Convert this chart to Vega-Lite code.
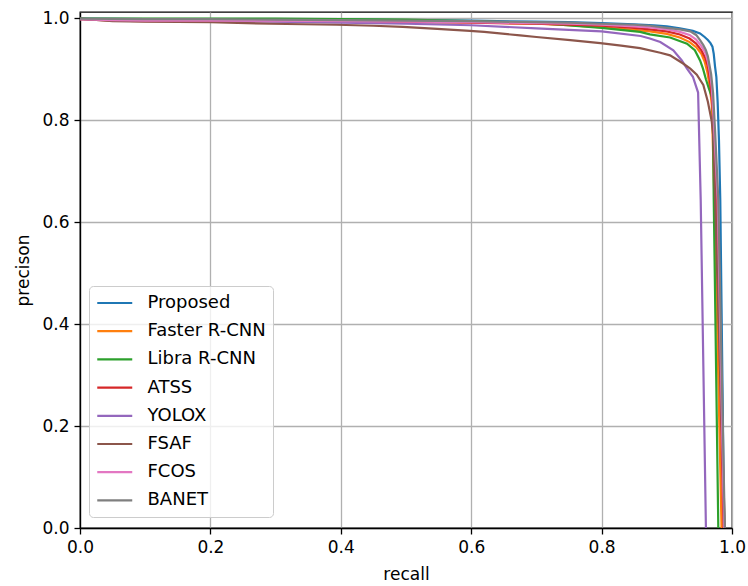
{
  "$schema": "https://vega.github.io/schema/vega-lite/v6.json",
  "width": 652,
  "height": 516,
  "autosize": {"type": "none"},
  "padding": {"left": 80, "top": 12, "right": 16, "bottom": 58},
  "background": "white",
  "config": {
    "font": "DejaVu Sans",
    "view": {"stroke": "black", "strokeWidth": 1.3},
    "axis": {
      "labelFont": "DejaVu Sans",
      "labelFontSize": 17,
      "labelColor": "black",
      "labelPadding": 5,
      "labelFlush": false,
      "tickColor": "black",
      "tickSize": 6,
      "tickWidth": 1.3,
      "domainColor": "black",
      "domainWidth": 1.3,
      "gridColor": "#b0b0b0",
      "gridWidth": 1.3,
      "titleFont": "DejaVu Sans",
      "titleFontSize": 17,
      "titleFontWeight": "normal",
      "titleColor": "black"
    }
  },
  "data": {
    "values": [
      {"method": "Proposed", "recall": 0.0, "precision": 0.999},
      {"method": "Proposed", "recall": 0.1, "precision": 0.998},
      {"method": "Proposed", "recall": 0.2, "precision": 0.998},
      {"method": "Proposed", "recall": 0.3, "precision": 0.997},
      {"method": "Proposed", "recall": 0.4, "precision": 0.997},
      {"method": "Proposed", "recall": 0.5, "precision": 0.996},
      {"method": "Proposed", "recall": 0.6, "precision": 0.995},
      {"method": "Proposed", "recall": 0.7, "precision": 0.993},
      {"method": "Proposed", "recall": 0.75, "precision": 0.992},
      {"method": "Proposed", "recall": 0.8, "precision": 0.99},
      {"method": "Proposed", "recall": 0.85, "precision": 0.988},
      {"method": "Proposed", "recall": 0.88, "precision": 0.986},
      {"method": "Proposed", "recall": 0.9, "precision": 0.984},
      {"method": "Proposed", "recall": 0.92, "precision": 0.98},
      {"method": "Proposed", "recall": 0.94, "precision": 0.975},
      {"method": "Proposed", "recall": 0.951, "precision": 0.97},
      {"method": "Proposed", "recall": 0.958, "precision": 0.963},
      {"method": "Proposed", "recall": 0.963, "precision": 0.957},
      {"method": "Proposed", "recall": 0.967, "precision": 0.951},
      {"method": "Proposed", "recall": 0.97, "precision": 0.944},
      {"method": "Proposed", "recall": 0.972, "precision": 0.93},
      {"method": "Proposed", "recall": 0.974, "precision": 0.905},
      {"method": "Proposed", "recall": 0.976, "precision": 0.885},
      {"method": "Proposed", "recall": 0.978, "precision": 0.835},
      {"method": "Proposed", "recall": 0.98, "precision": 0.761},
      {"method": "Proposed", "recall": 0.982, "precision": 0.644},
      {"method": "Proposed", "recall": 0.988, "precision": 0.0},

      {"method": "Faster R-CNN", "recall": 0.0, "precision": 0.998},
      {"method": "Faster R-CNN", "recall": 0.1, "precision": 0.997},
      {"method": "Faster R-CNN", "recall": 0.2, "precision": 0.996},
      {"method": "Faster R-CNN", "recall": 0.3, "precision": 0.996},
      {"method": "Faster R-CNN", "recall": 0.4, "precision": 0.995},
      {"method": "Faster R-CNN", "recall": 0.5, "precision": 0.994},
      {"method": "Faster R-CNN", "recall": 0.6, "precision": 0.992},
      {"method": "Faster R-CNN", "recall": 0.7, "precision": 0.989},
      {"method": "Faster R-CNN", "recall": 0.75, "precision": 0.986},
      {"method": "Faster R-CNN", "recall": 0.8, "precision": 0.982},
      {"method": "Faster R-CNN", "recall": 0.85, "precision": 0.977},
      {"method": "Faster R-CNN", "recall": 0.874, "precision": 0.974},
      {"method": "Faster R-CNN", "recall": 0.9, "precision": 0.969},
      {"method": "Faster R-CNN", "recall": 0.92, "precision": 0.962},
      {"method": "Faster R-CNN", "recall": 0.935, "precision": 0.953},
      {"method": "Faster R-CNN", "recall": 0.945, "precision": 0.943},
      {"method": "Faster R-CNN", "recall": 0.953, "precision": 0.93},
      {"method": "Faster R-CNN", "recall": 0.958, "precision": 0.915},
      {"method": "Faster R-CNN", "recall": 0.962, "precision": 0.895},
      {"method": "Faster R-CNN", "recall": 0.966, "precision": 0.865},
      {"method": "Faster R-CNN", "recall": 0.969, "precision": 0.83},
      {"method": "Faster R-CNN", "recall": 0.973, "precision": 0.644},
      {"method": "Faster R-CNN", "recall": 0.984, "precision": 0.0},

      {"method": "Libra R-CNN", "recall": 0.0, "precision": 0.999},
      {"method": "Libra R-CNN", "recall": 0.1, "precision": 0.999},
      {"method": "Libra R-CNN", "recall": 0.2, "precision": 0.999},
      {"method": "Libra R-CNN", "recall": 0.3, "precision": 0.999},
      {"method": "Libra R-CNN", "recall": 0.4, "precision": 0.998},
      {"method": "Libra R-CNN", "recall": 0.5, "precision": 0.997},
      {"method": "Libra R-CNN", "recall": 0.6, "precision": 0.994},
      {"method": "Libra R-CNN", "recall": 0.7, "precision": 0.99},
      {"method": "Libra R-CNN", "recall": 0.736, "precision": 0.987},
      {"method": "Libra R-CNN", "recall": 0.8, "precision": 0.981},
      {"method": "Libra R-CNN", "recall": 0.859, "precision": 0.973},
      {"method": "Libra R-CNN", "recall": 0.874, "precision": 0.968},
      {"method": "Libra R-CNN", "recall": 0.905, "precision": 0.962},
      {"method": "Libra R-CNN", "recall": 0.931, "precision": 0.95},
      {"method": "Libra R-CNN", "recall": 0.943, "precision": 0.937},
      {"method": "Libra R-CNN", "recall": 0.951, "precision": 0.917},
      {"method": "Libra R-CNN", "recall": 0.9555, "precision": 0.901},
      {"method": "Libra R-CNN", "recall": 0.96, "precision": 0.88},
      {"method": "Libra R-CNN", "recall": 0.965, "precision": 0.86},
      {"method": "Libra R-CNN", "recall": 0.9705, "precision": 0.84},
      {"method": "Libra R-CNN", "recall": 0.972, "precision": 0.644},
      {"method": "Libra R-CNN", "recall": 0.979, "precision": 0.0},

      {"method": "ATSS", "recall": 0.0, "precision": 0.998},
      {"method": "ATSS", "recall": 0.05, "precision": 0.995},
      {"method": "ATSS", "recall": 0.1, "precision": 0.994},
      {"method": "ATSS", "recall": 0.2, "precision": 0.994},
      {"method": "ATSS", "recall": 0.3, "precision": 0.994},
      {"method": "ATSS", "recall": 0.4, "precision": 0.993},
      {"method": "ATSS", "recall": 0.5, "precision": 0.992},
      {"method": "ATSS", "recall": 0.6, "precision": 0.991},
      {"method": "ATSS", "recall": 0.7, "precision": 0.989},
      {"method": "ATSS", "recall": 0.75, "precision": 0.987},
      {"method": "ATSS", "recall": 0.8, "precision": 0.985},
      {"method": "ATSS", "recall": 0.85, "precision": 0.981},
      {"method": "ATSS", "recall": 0.874, "precision": 0.978},
      {"method": "ATSS", "recall": 0.9, "precision": 0.974},
      {"method": "ATSS", "recall": 0.92, "precision": 0.968},
      {"method": "ATSS", "recall": 0.935, "precision": 0.96},
      {"method": "ATSS", "recall": 0.945, "precision": 0.95},
      {"method": "ATSS", "recall": 0.953, "precision": 0.937},
      {"method": "ATSS", "recall": 0.959, "precision": 0.922},
      {"method": "ATSS", "recall": 0.963, "precision": 0.905},
      {"method": "ATSS", "recall": 0.966, "precision": 0.88},
      {"method": "ATSS", "recall": 0.969, "precision": 0.845},
      {"method": "ATSS", "recall": 0.972, "precision": 0.8},
      {"method": "ATSS", "recall": 0.976, "precision": 0.644},
      {"method": "ATSS", "recall": 0.987, "precision": 0.0},

      {"method": "YOLOX", "recall": 0.0, "precision": 0.998},
      {"method": "YOLOX", "recall": 0.1, "precision": 0.996},
      {"method": "YOLOX", "recall": 0.2, "precision": 0.994},
      {"method": "YOLOX", "recall": 0.3, "precision": 0.993},
      {"method": "YOLOX", "recall": 0.4, "precision": 0.991},
      {"method": "YOLOX", "recall": 0.5, "precision": 0.989},
      {"method": "YOLOX", "recall": 0.6, "precision": 0.986},
      {"method": "YOLOX", "recall": 0.7, "precision": 0.98},
      {"method": "YOLOX", "recall": 0.75, "precision": 0.977},
      {"method": "YOLOX", "recall": 0.8, "precision": 0.974},
      {"method": "YOLOX", "recall": 0.86, "precision": 0.965},
      {"method": "YOLOX", "recall": 0.874, "precision": 0.96},
      {"method": "YOLOX", "recall": 0.89, "precision": 0.953},
      {"method": "YOLOX", "recall": 0.91, "precision": 0.937},
      {"method": "YOLOX", "recall": 0.923, "precision": 0.917},
      {"method": "YOLOX", "recall": 0.931, "precision": 0.901},
      {"method": "YOLOX", "recall": 0.94, "precision": 0.885},
      {"method": "YOLOX", "recall": 0.948, "precision": 0.854},
      {"method": "YOLOX", "recall": 0.952, "precision": 0.644},
      {"method": "YOLOX", "recall": 0.96, "precision": 0.0},

      {"method": "FSAF", "recall": 0.0, "precision": 0.999},
      {"method": "FSAF", "recall": 0.02, "precision": 0.997},
      {"method": "FSAF", "recall": 0.05, "precision": 0.994},
      {"method": "FSAF", "recall": 0.1, "precision": 0.993},
      {"method": "FSAF", "recall": 0.2, "precision": 0.992},
      {"method": "FSAF", "recall": 0.291, "precision": 0.989},
      {"method": "FSAF", "recall": 0.394, "precision": 0.987},
      {"method": "FSAF", "recall": 0.45, "precision": 0.985},
      {"method": "FSAF", "recall": 0.495, "precision": 0.983},
      {"method": "FSAF", "recall": 0.548, "precision": 0.979},
      {"method": "FSAF", "recall": 0.598, "precision": 0.975},
      {"method": "FSAF", "recall": 0.62, "precision": 0.973},
      {"method": "FSAF", "recall": 0.675, "precision": 0.966},
      {"method": "FSAF", "recall": 0.7, "precision": 0.963},
      {"method": "FSAF", "recall": 0.752, "precision": 0.957},
      {"method": "FSAF", "recall": 0.798, "precision": 0.951},
      {"method": "FSAF", "recall": 0.83, "precision": 0.946},
      {"method": "FSAF", "recall": 0.859, "precision": 0.941},
      {"method": "FSAF", "recall": 0.89, "precision": 0.932},
      {"method": "FSAF", "recall": 0.905, "precision": 0.927},
      {"method": "FSAF", "recall": 0.925, "precision": 0.911},
      {"method": "FSAF", "recall": 0.936, "precision": 0.901},
      {"method": "FSAF", "recall": 0.946, "precision": 0.889},
      {"method": "FSAF", "recall": 0.956, "precision": 0.869},
      {"method": "FSAF", "recall": 0.963, "precision": 0.836},
      {"method": "FSAF", "recall": 0.969, "precision": 0.797},
      {"method": "FSAF", "recall": 0.971, "precision": 0.772},
      {"method": "FSAF", "recall": 0.989, "precision": 0.0},

      {"method": "FCOS", "recall": 0.0, "precision": 0.998},
      {"method": "FCOS", "recall": 0.05, "precision": 0.996},
      {"method": "FCOS", "recall": 0.1, "precision": 0.995},
      {"method": "FCOS", "recall": 0.2, "precision": 0.995},
      {"method": "FCOS", "recall": 0.3, "precision": 0.995},
      {"method": "FCOS", "recall": 0.4, "precision": 0.994},
      {"method": "FCOS", "recall": 0.5, "precision": 0.993},
      {"method": "FCOS", "recall": 0.6, "precision": 0.992},
      {"method": "FCOS", "recall": 0.7, "precision": 0.99},
      {"method": "FCOS", "recall": 0.75, "precision": 0.989},
      {"method": "FCOS", "recall": 0.8, "precision": 0.987},
      {"method": "FCOS", "recall": 0.85, "precision": 0.984},
      {"method": "FCOS", "recall": 0.874, "precision": 0.982},
      {"method": "FCOS", "recall": 0.9, "precision": 0.978},
      {"method": "FCOS", "recall": 0.92, "precision": 0.973},
      {"method": "FCOS", "recall": 0.935, "precision": 0.967},
      {"method": "FCOS", "recall": 0.945, "precision": 0.958},
      {"method": "FCOS", "recall": 0.953, "precision": 0.945},
      {"method": "FCOS", "recall": 0.959, "precision": 0.932},
      {"method": "FCOS", "recall": 0.963, "precision": 0.915},
      {"method": "FCOS", "recall": 0.966, "precision": 0.895},
      {"method": "FCOS", "recall": 0.969, "precision": 0.865},
      {"method": "FCOS", "recall": 0.972, "precision": 0.8},
      {"method": "FCOS", "recall": 0.978, "precision": 0.644},
      {"method": "FCOS", "recall": 0.988, "precision": 0.0},

      {"method": "BANET", "recall": 0.0, "precision": 0.999},
      {"method": "BANET", "recall": 0.1, "precision": 0.998},
      {"method": "BANET", "recall": 0.2, "precision": 0.998},
      {"method": "BANET", "recall": 0.3, "precision": 0.997},
      {"method": "BANET", "recall": 0.4, "precision": 0.996},
      {"method": "BANET", "recall": 0.5, "precision": 0.995},
      {"method": "BANET", "recall": 0.6, "precision": 0.994},
      {"method": "BANET", "recall": 0.7, "precision": 0.992},
      {"method": "BANET", "recall": 0.75, "precision": 0.991},
      {"method": "BANET", "recall": 0.8, "precision": 0.989},
      {"method": "BANET", "recall": 0.85, "precision": 0.987},
      {"method": "BANET", "recall": 0.874, "precision": 0.985},
      {"method": "BANET", "recall": 0.9, "precision": 0.981},
      {"method": "BANET", "recall": 0.92, "precision": 0.978},
      {"method": "BANET", "recall": 0.936, "precision": 0.974},
      {"method": "BANET", "recall": 0.945, "precision": 0.967},
      {"method": "BANET", "recall": 0.951, "precision": 0.957},
      {"method": "BANET", "recall": 0.956, "precision": 0.947},
      {"method": "BANET", "recall": 0.96, "precision": 0.937},
      {"method": "BANET", "recall": 0.963, "precision": 0.925},
      {"method": "BANET", "recall": 0.965, "precision": 0.911},
      {"method": "BANET", "recall": 0.968, "precision": 0.89},
      {"method": "BANET", "recall": 0.971, "precision": 0.853},
      {"method": "BANET", "recall": 0.974, "precision": 0.78},
      {"method": "BANET", "recall": 0.979, "precision": 0.644},
      {"method": "BANET", "recall": 0.989, "precision": 0.0}
    ]
  },
  "mark": {"type": "line", "strokeWidth": 2.2, "clip": true},
  "encoding": {
    "x": {
      "field": "recall",
      "type": "quantitative",
      "scale": {"domain": [0, 1], "nice": false, "zero": false},
      "axis": {"values": [0, 0.2, 0.4, 0.6, 0.8, 1.0], "format": ".1f", "title": "recall", "titlePadding": 11}
    },
    "y": {
      "field": "precision",
      "type": "quantitative",
      "scale": {"domain": [0, 1.012], "nice": false, "zero": false},
      "axis": {"values": [0, 0.2, 0.4, 0.6, 0.8, 1.0], "format": ".1f", "title": "precison", "titlePadding": 9}
    },
    "color": {
      "field": "method",
      "type": "nominal",
      "sort": null,
      "scale": {
        "domain": ["Proposed", "Faster R-CNN", "Libra R-CNN", "ATSS", "YOLOX", "FSAF", "FCOS", "BANET"],
        "range": ["#1f77b4", "#ff7f0e", "#2ca02c", "#d62728", "#9467bd", "#8c564b", "#e377c2", "#7f7f7f"]
      },
      "legend": {
        "title": null,
        "orient": "none",
        "legendX": 9,
        "legendY": 274,
        "symbolType": "M-1,0H3",
        "symbolSize": 306,
        "symbolStrokeWidth": 2.2,
        "labelFont": "DejaVu Sans",
        "labelFontSize": 18,
        "labelColor": "black",
        "labelOffset": 31.5,
        "rowPadding": 9.2,
        "padding": 7,
        "fillColor": "rgba(255,255,255,0.8)",
        "strokeColor": "#cccccc",
        "cornerRadius": 4
      }
    }
  }
}
